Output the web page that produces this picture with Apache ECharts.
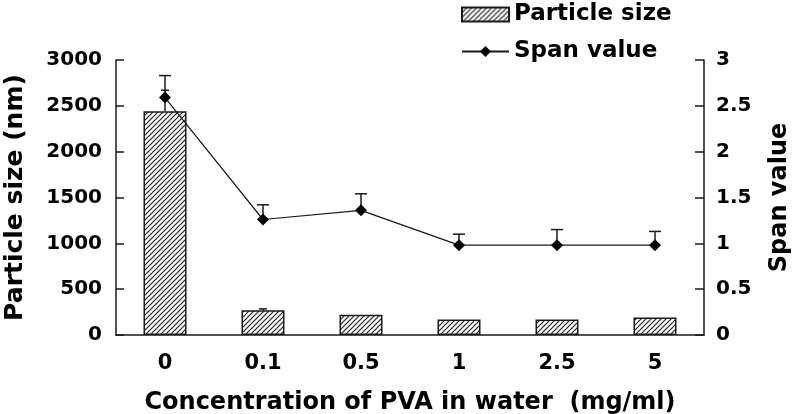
<!DOCTYPE html>
<html>
<head>
<meta charset="utf-8">
<script src="https://cdn.jsdelivr.net/npm/echarts@6/dist/echarts.min.js"></script>
<style>
  html, body { margin: 0; padding: 0; background: #fff; }
  #chart { width: 799px; height: 414px; }
</style>
</head>
<body>
<div id="chart"></div>
<script>
// values
const categories = ['0', '0.1', '0.5', '1', '2.5', '5']
const particleSize = [2440, 270, 220, 170, 170, 190]
const particleErr = [230, 15, 0, 0, 0, 0]
const spanValue = [2.59, 1.26, 1.36, 0.98, 0.98, 0.98]
const spanErr = [0.24, 0.16, 0.18, 0.12, 0.17, 0.15]

const FONT = 'DejaVu Sans'
const INK = '#1a1a1a'

// diagonal hatch for the bars
function hatch() {
  const c = document.createElement('canvas')
  c.width = 5
  c.height = 5
  const ctx = c.getContext('2d')
  ctx.fillStyle = '#fff'
  ctx.fillRect(0, 0, 5, 5)
  ctx.strokeStyle = '#222'
  ctx.lineWidth = 1.2
  ctx.beginPath()
  ctx.moveTo(0, 5); ctx.lineTo(5, 0)
  ctx.moveTo(-1, 1); ctx.lineTo(1, -1)
  ctx.moveTo(4, 6); ctx.lineTo(6, 4)
  ctx.stroke()
  return c
}

// upper half error bars
function errorBar(vals, errs, yAxisIndex, cap) {
  return {
    type: 'custom',
    yAxisIndex: yAxisIndex,
    silent: true,
    z: 1,
    data: vals.map((v, i) => [i, v, v + errs[i]]),
    renderItem(params, api) {
      if (api.value(2) === api.value(1)) return
      const lo = api.coord([api.value(0), api.value(1)])
      const hi = api.coord([api.value(0), api.value(2)])
      const style = { stroke: INK, lineWidth: 1.5 }
      return {
        type: 'group',
        children: [
          { type: 'line', shape: { x1: hi[0], y1: lo[1], x2: hi[0], y2: hi[1] }, style },
          { type: 'line', shape: { x1: hi[0] - cap / 2, y1: hi[1], x2: hi[0] + cap / 2, y2: hi[1] }, style }
        ]
      }
    }
  }
}

const chart = echarts.init(document.getElementById('chart'))

const axisCommon = {
  axisLine: { show: true, lineStyle: { color: INK, width: 1.5 } },
  axisTick: { show: true, inside: true, length: 8, lineStyle: { color: INK, width: 1.5 } },
  splitLine: { show: false },
  nameLocation: 'middle',
  nameRotate: 90,
  nameTextStyle: { fontFamily: FONT, fontWeight: 'bold', color: '#000' }
}

chart.setOption({
  animation: false,
  backgroundColor: '#fff',
  grid: { left: 116, right: 95, top: 60, bottom: 79, containLabel: false, outerBoundsMode: 'none' },
  legend: {
    orient: 'vertical',
    left: 456,
    top: -2,
    itemWidth: 47,
    itemHeight: 14,
    itemGap: 14,
    textStyle: { fontFamily: FONT, fontWeight: 'bold', fontSize: 23, color: '#000', padding: [0, 0, 0, 0] },
    data: [{ name: 'Particle size', icon: 'rect' }, 'Span value']
  },
  xAxis: {
    type: 'category',
    data: categories,
    axisLine: { lineStyle: { color: INK, width: 1.5 } },
    axisTick: { inside: true, length: 8, lineStyle: { color: INK, width: 1.5 } },
    axisLabel: { fontFamily: FONT, fontWeight: 'bold', fontSize: 21, color: '#000', margin: 18 },
    name: 'Concentration of PVA in water  (mg/ml)',
    nameLocation: 'middle',
    nameGap: 56,
    nameTextStyle: { fontFamily: FONT, fontWeight: 'bold', fontSize: 24, color: '#000' }
  },
  yAxis: [
    Object.assign({}, axisCommon, {
      type: 'value',
      min: 0,
      max: 3000,
      interval: 500,
      position: 'left',
      name: 'Particle size (nm)',
      nameGap: 88,
      nameTextStyle: Object.assign({}, axisCommon.nameTextStyle, { fontSize: 25 }),
      axisLabel: { fontFamily: FONT, fontWeight: 'bold', fontSize: 20, color: '#000', margin: 14, formatter: v => String(v) }
    }),
    Object.assign({}, axisCommon, {
      type: 'value',
      min: 0,
      max: 3,
      interval: 0.5,
      position: 'right',
      name: 'Span value',
      nameGap: 64,
      nameTextStyle: Object.assign({}, axisCommon.nameTextStyle, { fontSize: 24 }),
      axisTick: { show: true, inside: true, length: 9, lineStyle: { color: INK, width: 1.5 } },
      axisLabel: { fontFamily: FONT, fontWeight: 'bold', fontSize: 20, color: '#000', margin: 12, formatter: v => String(v) }
    })
  ],
  series: [
    {
      name: 'Particle size',
      type: 'bar',
      data: particleSize,
      barWidth: 43,
      itemStyle: {
        color: { image: hatch(), repeat: 'repeat' },
        borderColor: INK,
        borderWidth: 1.5
      },
      z: 2
    },
    errorBar(particleSize, particleErr, 0, 8),
    errorBar(spanValue, spanErr, 1, 12),
    {
      name: 'Span value',
      type: 'line',
      yAxisIndex: 1,
      data: spanValue,
      symbol: 'diamond',
      symbolSize: 12,
      itemStyle: { color: '#000' },
      lineStyle: { color: INK, width: 1.2 },
      z: 3
    }
  ]
})
</script>
</body>
</html>
